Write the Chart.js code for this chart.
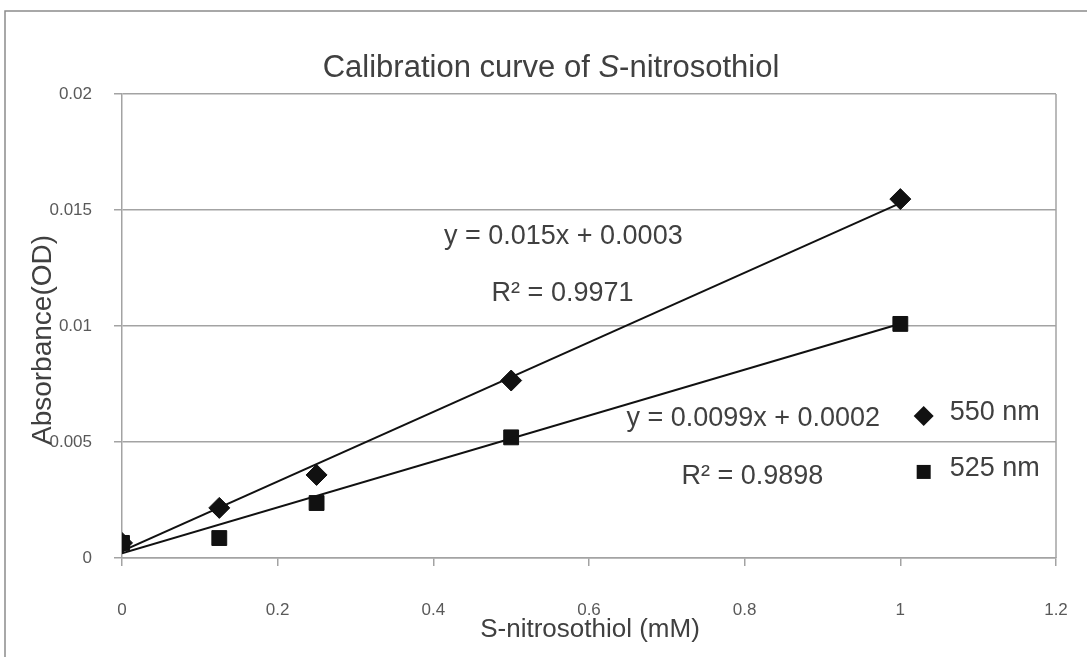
<!DOCTYPE html>
<html>
<head>
<meta charset="utf-8">
<script src="https://cdn.jsdelivr.net/npm/chart.js@4/dist/chart.umd.min.js"></script>
<style>
  html, body { margin: 0; padding: 0; background: #fff; }
  #wrap { position: relative; width: 1087px; height: 657px; }
</style>
</head>
<body>
<div id="wrap"><canvas id="kalibrasi"></canvas></div>
<script>
// Konsentrasi S-nitrosothiol (mM)
const konsentrasi = [0, 0.125, 0.25, 0.5, 1];
// Absorbansi pada dua panjang gelombang
const abs550 = [0.00065, 0.00216, 0.00358, 0.00765, 0.01547];
const abs525 = [0.00065, 0.00086, 0.00237, 0.0052, 0.01009];
// Regresi linear [slope, intercept, R2]
const fit550 = [0.015, 0.0003, 0.9971];
const fit525 = [0.0099, 0.0002, 0.9898];
const labelSeri = ['550 nm', '525 nm'];
const xTicks = ['0', '0.2', '0.4', '0.6', '0.8', '1', '1.2'];
const yTicks = ['0', '0.005', '0.01', '0.015', '0.02'];

const FONT = "'Liberation Sans', Arial, Helvetica, sans-serif";
const GRID = '#a3a3a3';
const TEKS = '#404040';

function titik(xs, ys) {
    return xs.map((x, i) => ({ x: x, y: ys[i] }));
}

function garisFit(fit) {
    const x0 = konsentrasi[0];
    const x1 = konsentrasi[konsentrasi.length - 1];
    return [{ x: x0, y: fit[0] * x0 + fit[1] }, { x: x1, y: fit[0] * x1 + fit[1] }];
}

// teks tambahan: judul, judul sumbu, persamaan, legenda
const hiasan = {
    id: 'hiasan',
    beforeDraw(chart) {
        const ctx = chart.ctx;
        ctx.save();
        ctx.strokeStyle = '#8c8c8c';
        ctx.lineWidth = 1.5;
        ctx.beginPath();
        ctx.moveTo(5, 657);
        ctx.lineTo(5, 11);
        ctx.lineTo(1087, 11);
        ctx.stroke();
        ctx.restore();
    },
    beforeDatasetsDraw(chart) {
        const ctx = chart.ctx;
        const a = chart.chartArea;
        ctx.save();
        ctx.strokeStyle = GRID;
        ctx.lineWidth = 1.5;
        ctx.beginPath();
        ctx.moveTo(a.right, a.top);
        ctx.lineTo(a.right, a.bottom);
        ctx.stroke();
        ctx.restore();
    },
    afterDraw(chart) {
        const ctx = chart.ctx;
        const sx = chart.scales.x;
        const sy = chart.scales.y;
        ctx.save();
        ctx.fillStyle = TEKS;

        // judul dengan S miring
        const bagian = [
            ['Calibration curve of ', 'normal'],
            ['S', 'italic'],
            ['-nitrosothiol', 'normal']
        ];
        let lebar = 0;
        bagian.forEach(b => {
            ctx.font = b[1] + ' 31px ' + FONT;
            lebar += ctx.measureText(b[0]).width;
        });
        let px = 551 - lebar / 2;
        ctx.textBaseline = 'alphabetic';
        ctx.textAlign = 'left';
        bagian.forEach(b => {
            ctx.font = b[1] + ' 31px ' + FONT;
            ctx.fillText(b[0], px, 77);
            px += ctx.measureText(b[0]).width;
        });

        // judul sumbu x
        ctx.font = '26px ' + FONT;
        ctx.textAlign = 'center';
        ctx.fillText('S-nitrosothiol (mM)', 590, 637);

        // judul sumbu y
        ctx.save();
        ctx.translate(43, 340);
        ctx.rotate(-Math.PI / 2);
        ctx.textBaseline = 'middle';
        ctx.font = '28px ' + FONT;
        ctx.fillText('Absorbance(OD)', 0, 0);
        ctx.restore();

        // persamaan regresi
        ctx.font = '27px ' + FONT;
        ctx.textBaseline = 'middle';
        ctx.textAlign = 'center';
        const persamaan = [
            ['y = ' + fit550[0] + 'x + ' + fit550[1], 0.567, 0.01384],
            ['R\u00b2 = ' + fit550[2], 0.566, 0.01142],
            ['y = ' + fit525[0] + 'x + ' + fit525[1], 0.811, 0.00603],
            ['R\u00b2 = ' + fit525[2], 0.81, 0.00349]
        ];
        persamaan.forEach(p => {
            ctx.fillText(p[0], sx.getPixelForValue(p[1]), sy.getPixelForValue(p[2]));
        });

        // legenda
        const lx = sx.getPixelForValue(1.03);
        const ly1 = sy.getPixelForValue(0.00612);
        const ly2 = sy.getPixelForValue(0.00371);
        ctx.fillStyle = '#111';
        ctx.beginPath();
        ctx.moveTo(lx - 10, ly1);
        ctx.lineTo(lx, ly1 - 10);
        ctx.lineTo(lx + 10, ly1);
        ctx.lineTo(lx, ly1 + 10);
        ctx.closePath();
        ctx.fill();
        ctx.fillRect(lx - 7, ly2 - 7, 14, 14);
        ctx.fillStyle = TEKS;
        ctx.textAlign = 'left';
        ctx.font = '27px ' + FONT;
        ctx.fillText(labelSeri[0], lx + 26, ly1 - 3);
        ctx.fillText(labelSeri[1], lx + 26, ly2 - 3);
        ctx.restore();
    }
};

const ctxKal = document.getElementById('kalibrasi').getContext('2d');
const grafikKalibrasi = new Chart(ctxKal, {
    type: 'scatter',
    data: {
        datasets: [{
            label: 'Linear (550 nm)',
            data: garisFit(fit550),
            showLine: true,
            borderColor: '#111',
            borderWidth: 2,
            pointRadius: 0
        }, {
            label: 'Linear (525 nm)',
            data: garisFit(fit525),
            showLine: true,
            borderColor: '#111',
            borderWidth: 2,
            pointRadius: 0
        }, {
            label: labelSeri[0],
            data: titik(konsentrasi, abs550),
            pointStyle: 'rectRot',
            pointRadius: 10.5,
            backgroundColor: '#111',
            borderColor: '#111',
            borderWidth: 1
        }, {
            label: labelSeri[1],
            data: titik(konsentrasi, abs525),
            pointStyle: 'rect',
            pointRadius: 10.5,
            backgroundColor: '#111',
            borderColor: '#111',
            borderWidth: 1
        }]
    },
    options: {
        responsive: true,
        maintainAspectRatio: false,
        animation: false,
        layout: { padding: { top: 94, right: 31, left: 0, bottom: 0 } },
        plugins: {
            legend: { display: false },
            tooltip: { enabled: false }
        },
        scales: {
            x: {
                type: 'linear',
                min: 0,
                max: 1.2,
                afterFit: (s) => {
                    s.height = 99;
                    // label 1.2 muat di padding kanan
                    s.paddingRight = 0;
                    s.paddingLeft = 0;
                },
                grid: { drawOnChartArea: false, drawTicks: true, tickLength: 8, color: GRID, lineWidth: 1.5 },
                border: { display: true, color: GRID, width: 1.5 },
                ticks: {
                    stepSize: 0.2,
                    padding: 34,
                    color: '#595959',
                    font: { family: FONT, size: 17 },
                    callback: (v) => xTicks[Math.round(v / 0.2)]
                }
            },
            y: {
                type: 'linear',
                min: 0,
                max: 0.02,
                afterFit: (s) => { s.width = 122; },
                grid: { drawTicks: true, tickLength: 8, color: GRID, lineWidth: 1.5 },
                border: { display: true, color: GRID, width: 1.5 },
                ticks: {
                    stepSize: 0.005,
                    padding: 22,
                    color: '#595959',
                    font: { family: FONT, size: 17 },
                    callback: (v) => yTicks[Math.round(v / 0.005)]
                }
            }
        }
    },
    plugins: [hiasan]
});
</script>
</body>
</html>
